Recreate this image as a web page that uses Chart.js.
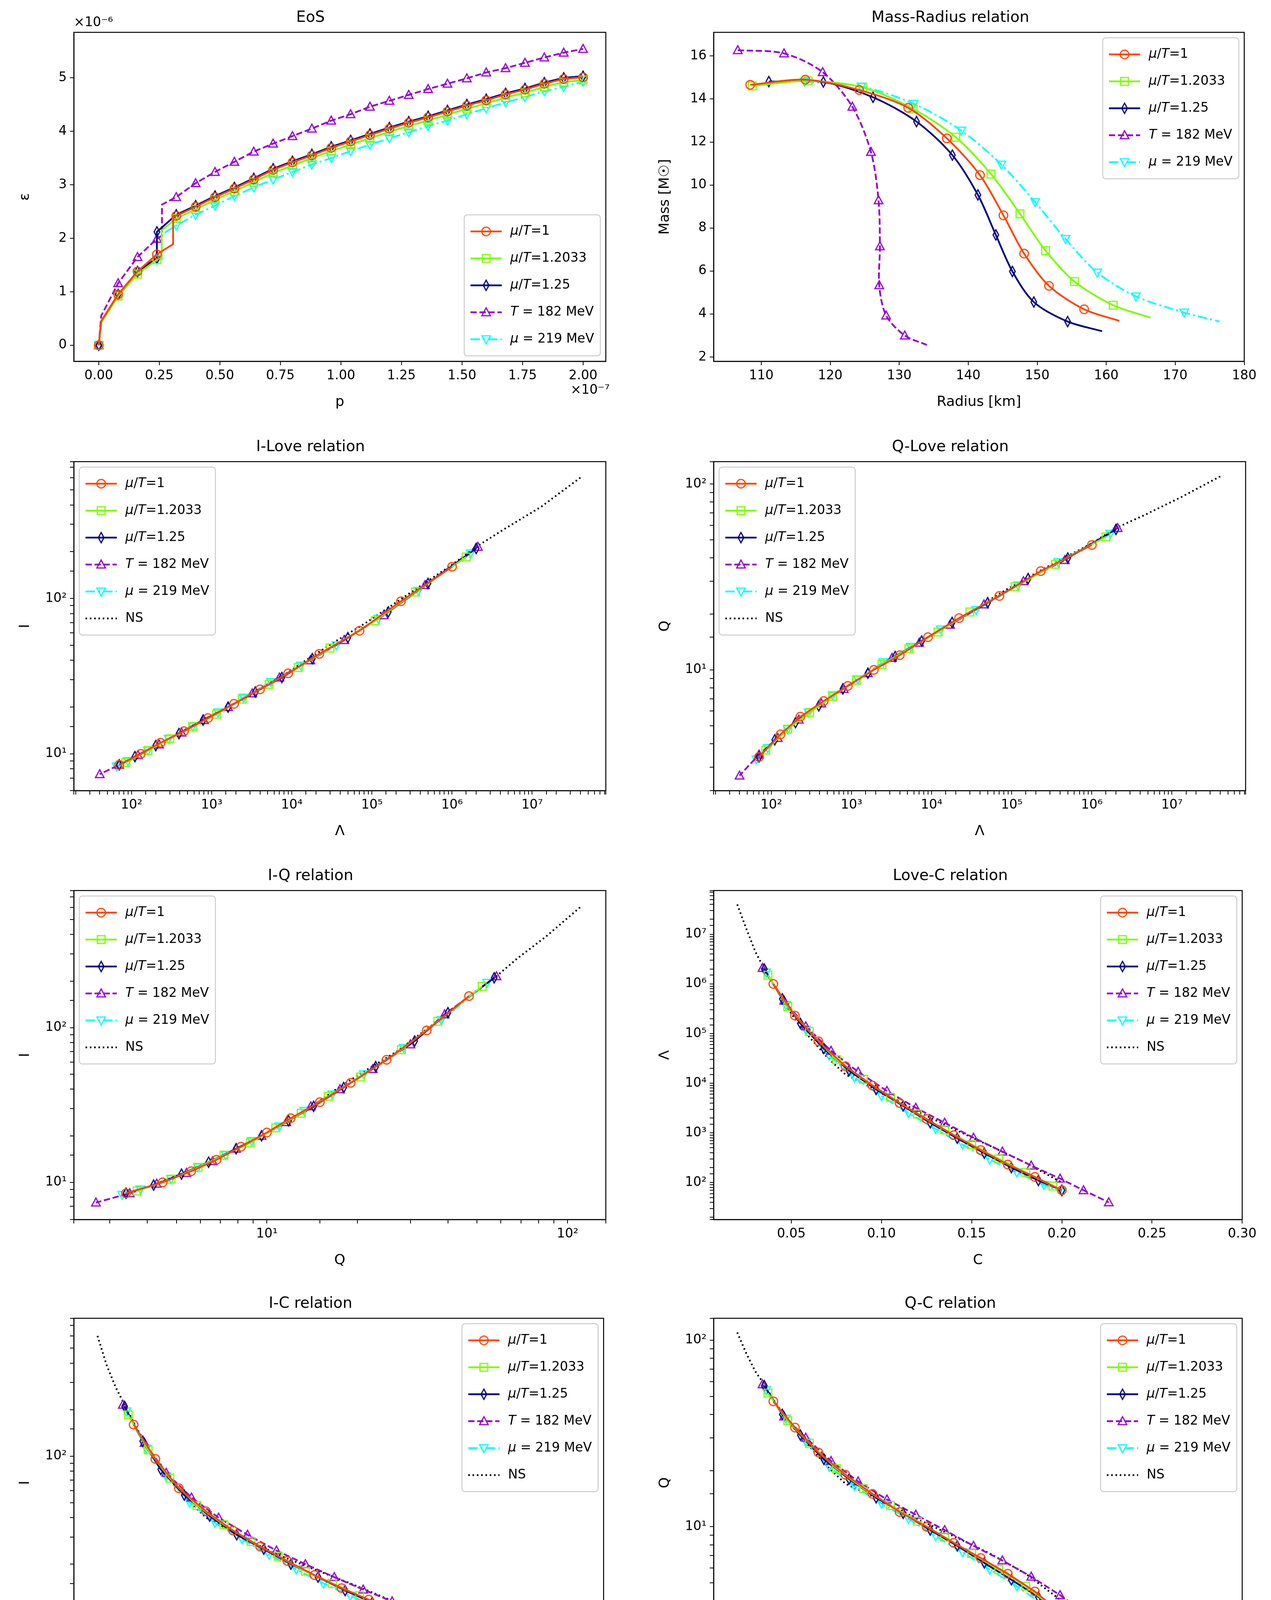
<!DOCTYPE html>
<html><head><meta charset="utf-8">
<script src="https://cdn.jsdelivr.net/npm/chart.js@4/dist/chart.umd.min.js"></script>
<style>body{margin:0;background:#fff;width:3254px;height:4359px;position:relative;overflow:hidden}canvas{position:absolute}</style>
</head><body>
<script>
// ---------- DATA ----------
// EoS: p (x1e-7), eps (x1e-6)
const pA=[0,0.01,0.08,0.16,0.24,0.307,0.307,0.32,0.4,0.48,0.56,0.64,0.72,0.8,0.88,0.96,1.04,1.12,1.2,1.28,1.36,1.44,1.52,1.6,1.68,1.76,1.84,1.92,2.0];
const eA=[0,0.45,0.95,1.38,1.7,1.89,2.4,2.42,2.59,2.77,2.93,3.1,3.28,3.42,3.55,3.69,3.81,3.93,4.05,4.16,4.26,4.37,4.48,4.58,4.69,4.78,4.89,4.98,5.01];
const pB=[0,0.01,0.08,0.16,0.24,0.26,0.26,0.32,0.4,0.48,0.56,0.64,0.72,0.8,0.88,0.96,1.04,1.12,1.2,1.28,1.36,1.44,1.52,1.6,1.68,1.76,1.84,1.92,2.0];
const eB=[0,0.42,0.92,1.33,1.6,1.65,2.15,2.37,2.54,2.72,2.88,3.05,3.22,3.36,3.5,3.63,3.75,3.87,3.99,4.1,4.2,4.31,4.42,4.52,4.63,4.72,4.83,4.92,4.96];
const pC=[0,0.01,0.08,0.16,0.24,0.24,0.32,0.4,0.48,0.56,0.64,0.72,0.8,0.88,0.96,1.04,1.12,1.2,1.28,1.36,1.44,1.52,1.6,1.68,1.76,1.84,1.92,2.0];
const eC=[0,0.45,0.95,1.38,1.63,2.12,2.44,2.61,2.79,2.95,3.12,3.3,3.44,3.57,3.71,3.83,3.95,4.07,4.18,4.28,4.39,4.5,4.6,4.71,4.8,4.91,5.0,5.03];
const pD=[0,0.01,0.08,0.16,0.24,0.261,0.261,0.32,0.4,0.48,0.56,0.64,0.72,0.8,0.88,0.96,1.04,1.12,1.2,1.28,1.36,1.44,1.52,1.6,1.68,1.76,1.84,1.92,2.0];
const eD=[0,0.55,1.16,1.65,1.99,2.05,2.63,2.77,3.03,3.24,3.43,3.62,3.77,3.91,4.05,4.2,4.32,4.46,4.57,4.68,4.79,4.89,4.99,5.1,5.18,5.28,5.38,5.47,5.54];
const pE=[0,0.01,0.08,0.16,0.24,0.26,0.26,0.32,0.4,0.48,0.56,0.64,0.72,0.8,0.88,0.96,1.04,1.12,1.2,1.28,1.36,1.44,1.52,1.6,1.68,1.76,1.84,1.92,2.0];
const eE=[0,0.42,0.95,1.35,1.6,1.62,2.07,2.24,2.44,2.61,2.79,2.95,3.1,3.24,3.38,3.5,3.63,3.75,3.87,3.98,4.1,4.2,4.32,4.43,4.54,4.64,4.75,4.83,4.93];
// Mass-Radius: R [km], M [Msun]
const rA=[108.4,116.4,124.2,131.3,136.9,141.7,145.1,148.1,151.7,156.8,161.9];
const mA=[14.66,14.9,14.42,13.59,12.17,10.46,8.59,6.81,5.31,4.22,3.68];
const rB=[108.7,116.8,124.7,132.0,138.2,143.3,147.5,151.2,155.4,161,166.4];
const mB=[14.61,14.84,14.54,13.54,12.22,10.51,8.66,6.95,5.51,4.41,3.83];
const rC=[111.1,119,126.2,132.5,137.7,141.4,144,146.4,149.5,154.4,159.4];
const mC=[14.81,14.79,14.08,12.95,11.39,9.54,7.68,5.98,4.56,3.65,3.2];
const rD=[106.6,113.3,118.9,123.2,125.9,127,127.2,127.1,128.1,130.8,134];
const mD=[16.27,16.12,15.25,13.64,11.54,9.29,7.15,5.34,3.93,3.0,2.56];
const rE=[116.3,124.5,132.1,139,144.8,149.7,154.1,158.7,164.3,171.3,176.4];
const mE=[14.81,14.58,13.78,12.53,10.95,9.2,7.49,5.93,4.82,4.07,3.65];
// Universal relations: compactness C, tidal Λ, I, Q
const cA=[0.04,0.052,0.065,0.08,0.095,0.11,0.125,0.14,0.155,0.17,0.185,0.2];
const lA=[1e6,2.3e5,7e4,2.2e4,9e3,4e3,1.9e3,9e2,4.5e2,2.3e2,1.3e2,70];
const iA=[160,96,62,44,33,26,21,17,14,11.8,10,8.5];
const qA=[47,34,25,19,15,12,10,8.2,6.8,5.6,4.5,3.4];
const cB=[0.037,0.048,0.06,0.075,0.09,0.105,0.12,0.135,0.15,0.165,0.18,0.195];
const lB=[1.5e6,3.5e5,1.1e5,3e4,1.2e4,5.2e3,2.4e3,1.15e3,5.8e2,3e2,1.6e2,85];
const iB=[185,110,72,48,36,28,22.5,18,15,12.5,10.5,8.8];
const qB=[52,37,28,20.5,16,13,10.7,8.8,7.2,5.9,4.8,3.7];
const cC=[0.035,0.045,0.055,0.068,0.082,0.097,0.112,0.127,0.142,0.157,0.172,0.187,0.2];
const lC=[2e6,5e5,1.6e5,5e4,1.8e4,7.5e3,3.5e3,1.6e3,7.8e2,3.9e2,2e2,1.1e2,70];
const iC=[210,125,82,56,41,31,25,20,16.5,13.5,11.3,9.6,8.5];
const qC=[57,40,31,23,18,14.3,11.8,9.6,7.9,6.4,5.2,4.2,3.4];
const cD=[0.034,0.046,0.058,0.072,0.087,0.103,0.119,0.135,0.151,0.167,0.183,0.199,0.212,0.226];
const lD=[2.1e6,4.6e5,1.4e5,4.5e4,1.7e4,7e3,3.2e3,1.6e3,8e2,4.2e2,2.2e2,1.2e2,70,40];
const iD=[215,122,78,54,40,31,24.5,20,16.5,13.7,11.5,9.8,8.5,7.4];
const qD=[58,39,30,22.5,17.5,14,11.6,9.6,7.9,6.6,5.4,4.3,3.5,2.7];
const cE=[0.036,0.047,0.058,0.071,0.085,0.1,0.115,0.13,0.145,0.16,0.175,0.19,0.2];
const lE=[1.7e6,3.8e5,1.2e5,3.6e4,1.3e4,5.5e3,2.5e3,1.2e3,5.8e2,2.9e2,1.6e2,90,65];
const iE=[195,112,74,50,37,29,23,18.5,15,12.5,10.5,9,8.3];
const qE=[54,38,28.5,21,16.5,13.3,11,8.9,7.3,5.9,4.8,3.8,3.3];
const cN=[0.02,0.025,0.03,0.035,0.04,0.05,0.06,0.07,0.08,0.1,0.12,0.14,0.16,0.18,0.2];
const lN=[4e7,1.3e7,4.5e6,2e6,1e6,2.5e5,8.5e4,3.3e4,1.5e4,6.5e3,2.7e3,1.2e3,5.5e2,2.5e2,1e2];
const iN=[600,390,280,215,165,102,70,52,40,30,23,18.5,15,12,9.3];
const qN=[110,85,68,58,48,35,27,21,17,13.8,11,8.9,7.2,5.6,4.0];

const labels=[
 [['μ',1],['/',0],['T',1],['=1',0]],
 [['μ',1],['/',0],['T',1],['=1.2033',0]],
 [['μ',1],['/',0],['T',1],['=1.25',0]],
 [['T',1],[' = 182 MeV',0]],
 [['μ',1],[' = 219 MeV',0]],
 [['NS',0]]
];
// ---------- STYLE ----------
const FONT='DejaVu Sans';
const sty=[
 {color:'#ff4500',mk:'o',dash:[]},
 {color:'#7cfc00',mk:'s',dash:[]},
 {color:'#000080',mk:'d',dash:[]},
 {color:'#9400d3',mk:'^',dash:[16,7]},
 {color:'#00ffff',mk:'v',dash:[24,8,5,8]},
 {color:'#000000',mk:null,dash:[4,7]}
];
function marker(type,color){
  const s=36,c=document.createElement('canvas');c.width=s;c.height=s;
  const g=c.getContext('2d');g.strokeStyle=color;g.lineWidth=3;g.translate(s/2,s/2);const r=11;
  g.beginPath();
  if(type==='o'){g.arc(0,0,r,0,Math.PI*2);}
  else if(type==='s'){g.rect(-r*0.9,-r*0.9,r*1.8,r*1.8);}
  else if(type==='d'){g.moveTo(0,-r*1.2);g.lineTo(r*0.65,0);g.lineTo(0,r*1.2);g.lineTo(-r*0.65,0);g.closePath();}
  else if(type==='^'){g.moveTo(0,-r*1.05);g.lineTo(r,r*0.8);g.lineTo(-r,r*0.8);g.closePath();}
  else if(type==='v'){g.moveTo(0,r*1.05);g.lineTo(r,-r*0.8);g.lineTo(-r,-r*0.8);g.closePath();}
  g.stroke();return c;
}
sty.forEach(s=>{if(s.mk)s.img=marker(s.mk,s.color);});

function ds(i,xs,ys,opt){
  const s=sty[i];opt=opt||{};
  return {data:xs.map((x,k)=>({x:x,y:ys[k]})),borderColor:s.color,backgroundColor:s.color,borderWidth:4.5,
    borderDash:s.dash,tension:opt.tension||0,pointStyle:s.img||'circle',
    pointRadius:s.img?(c=>opt.mask?(opt.mask(c.dataIndex,xs)?6:0):6):0,pointHoverRadius:0,fill:false};
}
const gridMask=(k,xs)=>{const v=xs[k]/0.08;return Math.abs(v-Math.round(v))<1e-6&&!(k>0&&xs[k-1]===xs[k]&&k<xs.length-1&&false);};
const noEnd=(k,xs)=>k<xs.length-1;
const sup={'-':'⁻','0':'⁰','1':'¹','2':'²','3':'³','4':'⁴','5':'⁵','6':'⁶','7':'⁷','8':'⁸','9':'⁹'};
function logAxis(min,max,title,isX){
  return {type:'logarithmic',min:min,max:max,
    title:{display:true,text:title,font:{family:FONT,size:36},color:'#000',padding:{top:4,bottom:4}},
    ticks:{autoSkip:false,maxRotation:0,font:{family:FONT,size:33},color:'#000',padding:8,
      callback:(v)=>{const l=Math.log10(v);if(Math.abs(l-Math.round(l))<1e-9)return '10'+String(Math.round(l)).split('').map(ch=>sup[ch]).join('');return '';}},
    grid:{drawOnChartArea:false,drawTicks:true,tickLength:10,color:'#000',lineWidth:2},
    border:{display:true,color:'#000',width:2.5},
    afterFit:s=>{if(isX)s.height=130;else s.width=150;}};
}
function linAxis(min,max,step,title,isX,dec){
  return {type:'linear',min:min,max:max,
    title:{display:true,text:title,font:{family:FONT,size:36},color:'#000',padding:{top:4,bottom:4}},
    ticks:{stepSize:step,includeBounds:false,autoSkip:false,maxRotation:0,font:{family:FONT,size:33},color:'#000',padding:8,
      callback:v=>dec!=null?Number(v).toFixed(dec):String(Math.round(v))},
    grid:{drawOnChartArea:false,drawTicks:true,tickLength:10,color:'#000',lineWidth:2},
    border:{display:true,color:'#000',width:2.5},
    afterFit:s=>{if(isX)s.height=130;else s.width=150;}};
}
const deco={id:'deco',afterDatasetsDraw(chart){
  const o=chart.options.plugins.deco,a=chart.chartArea,g=chart.ctx;
  g.save();g.strokeStyle='#000';g.lineWidth=2.5;g.setLineDash([]);g.strokeRect(a.left,a.top,a.right-a.left,a.bottom-a.top);
  if(o.offY){g.font='33px '+FONT;g.fillStyle='#000';g.textAlign='left';g.textBaseline='bottom';g.fillText(o.offY,a.left,a.top-8);}
  if(o.offX){g.font='33px '+FONT;g.fillStyle='#000';g.textAlign='right';g.textBaseline='top';g.fillText(o.offX,a.right+10,a.bottom+58);}
  const n=o.n,rowH=69,pad=16,hl=80;
  const tw=i=>labels[i].reduce((w,p)=>{g.font=(p[1]?'italic ':'')+'33px '+FONT;return w+g.measureText(p[0]).width;},0);
  let mw=0;for(let i=0;i<n;i++)mw=Math.max(mw,tw(i));
  const w=pad+hl+22+mw+pad,h=n*rowH+pad;
  let x=o.pos.includes('r')?a.right-14-w:a.left+14;
  let y=o.pos.includes('u')?a.top+14:a.bottom-14-h;
  g.fillStyle='rgba(255,255,255,0.8)';g.strokeStyle='#cccccc';g.lineWidth=2.5;
  g.beginPath();g.roundRect(x,y,w,h,8);g.fill();g.stroke();
  for(let i=0;i<n;i++){
    const s=sty[i],cy=y+pad/2+rowH*i+rowH/2;
    g.strokeStyle=s.color;g.lineWidth=4.5;g.setLineDash(s.dash);g.beginPath();g.moveTo(x+pad,cy);g.lineTo(x+pad+hl,cy);g.stroke();g.setLineDash([]);
    if(s.img)g.drawImage(s.img,x+pad+hl/2-18,cy-18);
    let tx=x+pad+hl+22;g.fillStyle='#000';g.textAlign='left';g.textBaseline='middle';
    labels[i].forEach(p=>{g.font=(p[1]?'italic ':'')+'33px '+FONT;g.fillText(p[0],tx,cy);tx+=g.measureText(p[0]).width;});
  }
  g.restore();
}};
Chart.register(deco);

const colX=[0,1660],colW=[1590,1565],rowY=[0,1099,2197,3292],H=1075;
function make(col,row,title,datasets,xs,ys,decoOpt){
  const cv=document.createElement('canvas');cv.width=colW[col];cv.height=H;
  cv.style.left=colX[col]+'px';cv.style.top=rowY[row]+'px';document.body.appendChild(cv);
  new Chart(cv,{type:'line',data:{datasets:datasets},options:{responsive:false,animation:false,devicePixelRatio:1,
    layout:{padding:{left:col===0?39:17,right:col===0?39:36,top:12,bottom:20}},
    plugins:{legend:{display:false},tooltip:{enabled:false},deco:decoOpt,
      title:{display:true,text:title,font:{family:FONT,size:39,weight:'normal'},color:'#000',padding:{top:10,bottom:14}}},
    scales:{x:xs,y:ys}}});
}
const E=[[pA,eA],[pB,eB],[pC,eC],[pD,eD],[pE,eE]];
make(0,0,'EoS',E.map((d,i)=>ds(i,d[0],d[1],{mask:gridMask})),linAxis(-0.103,2.094,0.25,'p',true,2),linAxis(-0.3,5.85,1,'ε',false),{n:5,pos:'lr',offY:'×10⁻⁶',offX:'×10⁻⁷'});
const MR=[[rA,mA],[rB,mB],[rC,mC],[rD,mD],[rE,mE]];
make(1,0,'Mass-Radius relation',MR.map((d,i)=>ds(i,d[0],d[1],{mask:noEnd,tension:0.3})),linAxis(103.1,180,10,'Radius [km]',true),linAxis(1.8,17.1,2,'Mass [M☉]',false),{n:5,pos:'ur'});
const U=[[cA,lA,iA,qA],[cB,lB,iB,qB],[cC,lC,iC,qC],[cD,lD,iD,qD],[cE,lE,iE,qE],[cN,lN,iN,qN]];
make(0,1,'I-Love relation',U.map((d,i)=>ds(i,d[1],d[2])),logAxis(19,8.3e7,'Λ',true),logAxis(5.8,760,'I',false),{n:6,pos:'ul'});
make(1,1,'Q-Love relation',U.map((d,i)=>ds(i,d[1],d[3])),logAxis(19,8.3e7,'Λ',true),logAxis(2.24,132,'Q',false),{n:6,pos:'ul'});
make(0,2,'I-Q relation',U.map((d,i)=>ds(i,d[3],d[2])),logAxis(2.28,134,'Q',true),logAxis(5.75,770,'I',false),{n:6,pos:'ul'});
make(1,2,'Love-C relation',U.map((d,i)=>ds(i,d[0],d[1])),linAxis(0.0069,0.30,0.05,'C',true,2),logAxis(18,7.6e7,'Λ',false),{n:6,pos:'ur'});
make(0,3,'I-C relation',U.map((d,i)=>ds(i,d[0],d[2])),linAxis(0.0069,0.30,0.05,'C',true,2),logAxis(5.8,780,'I',false),{n:6,pos:'ur'});
make(1,3,'Q-C relation',U.map((d,i)=>ds(i,d[0],d[3])),linAxis(0.0069,0.30,0.05,'C',true,2),logAxis(2.26,131,'Q',false),{n:6,pos:'ur'});
</script>
</body></html>
